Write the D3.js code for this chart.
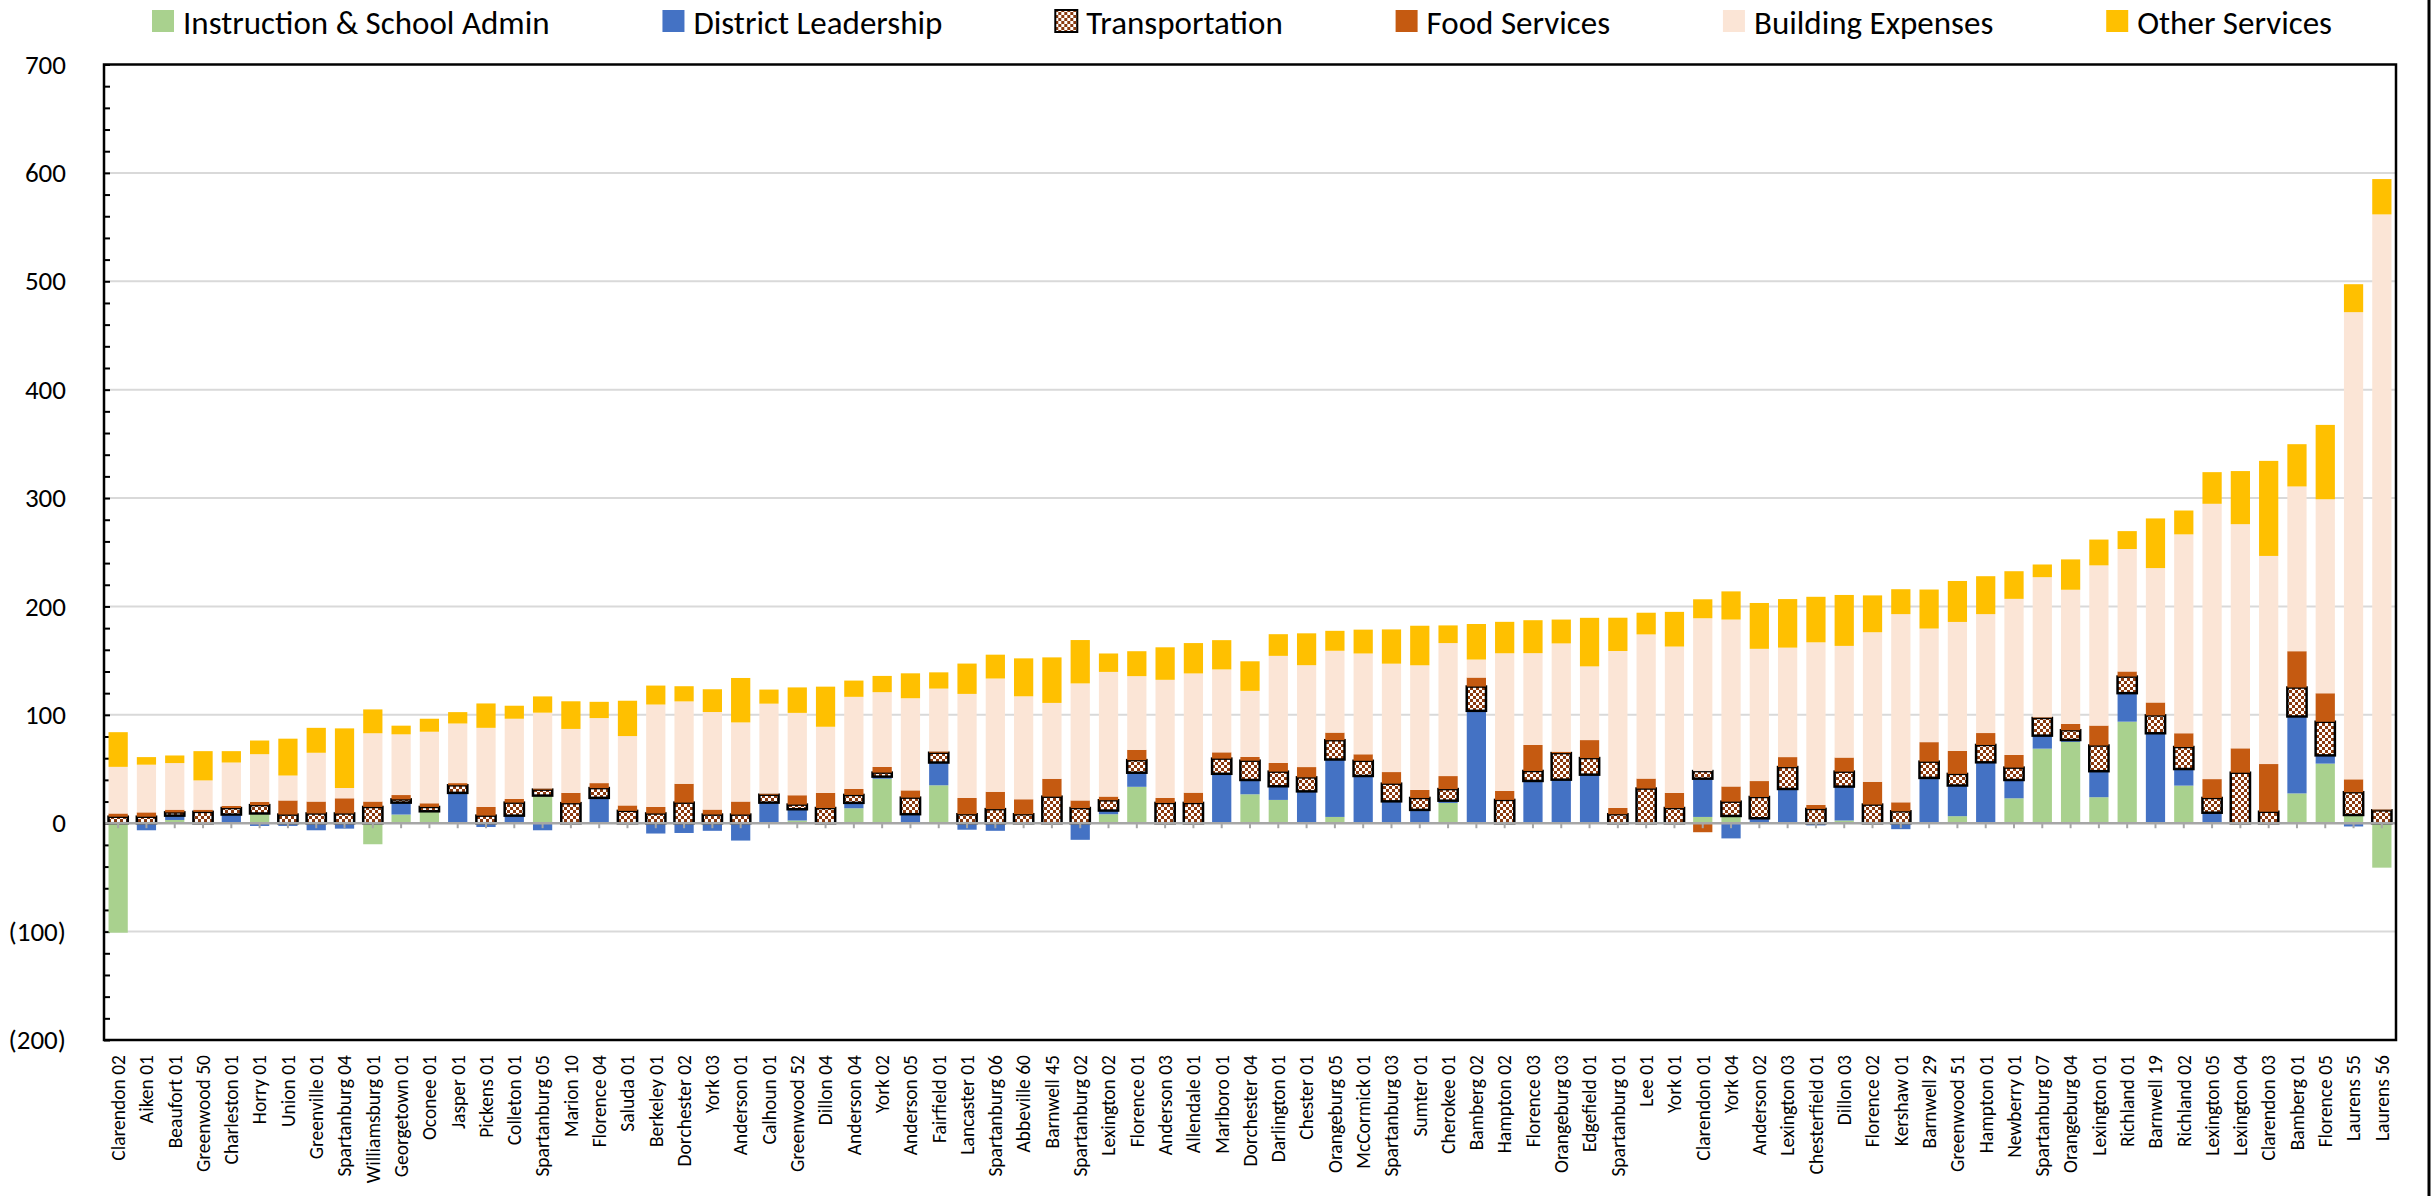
<!DOCTYPE html>
<html lang="en">

<head>
    <meta charset="UTF-8">
    <title>District spending per pupil, stacked</title>
    <style>
        html,
        body {
            padding: 0;
            margin: 0;
            background: #fff;
            overflow: hidden;
        }

        text {
            font-family: Calibri, Carlito, Lato, sans-serif;
            fill: #000;
        }
    </style>
</head>

<body>

    <script src="https://cdn.jsdelivr.net/npm/d3@7"></script>
    <script>

        const districts = [
            'Clarendon 02', 'Aiken 01', 'Beaufort 01', 'Greenwood 50', 'Charleston 01', 'Horry 01', 'Union 01',
            'Greenville 01', 'Spartanburg 04', 'Williamsburg 01', 'Georgetown 01', 'Oconee 01', 'Jasper 01',
            'Pickens 01', 'Colleton 01', 'Spartanburg 05', 'Marion 10', 'Florence 04', 'Saluda 01', 'Berkeley 01',
            'Dorchester 02', 'York 03', 'Anderson 01', 'Calhoun 01', 'Greenwood 52', 'Dillon 04', 'Anderson 04',
            'York 02', 'Anderson 05', 'Fairfield 01', 'Lancaster 01', 'Spartanburg 06', 'Abbeville 60',
            'Barnwell 45', 'Spartanburg 02', 'Lexington 02', 'Florence 01', 'Anderson 03', 'Allendale 01',
            'Marlboro 01', 'Dorchester 04', 'Darlington 01', 'Chester 01', 'Orangeburg 05', 'McCormick 01',
            'Spartanburg 03', 'Sumter 01', 'Cherokee 01', 'Bamberg 02', 'Hampton 02', 'Florence 03',
            'Orangeburg 03', 'Edgefield 01', 'Spartanburg 01', 'Lee 01', 'York 01', 'Clarendon 01', 'York 04',
            'Anderson 02', 'Lexington 03', 'Chesterfield 01', 'Dillon 03', 'Florence 02', 'Kershaw 01',
            'Barnwell 29', 'Greenwood 51', 'Hampton 01', 'Newberry 01', 'Spartanburg 07', 'Orangeburg 04',
            'Lexington 01', 'Richland 01', 'Barnwell 19', 'Richland 02', 'Lexington 05', 'Lexington 04',
            'Clarendon 03', 'Bamberg 01', 'Florence 05', 'Laurens 55', 'Laurens 56'
        ]

        const instruction = [
            -101, 0, 3, 0, 0, 9, 0, 0, 0, -19.4, 8, 11, 0, 0, 0, 25.5, 0, 0, 0, 0,
            0, 0, 0, 0, 2.5, 0, 13.8, 41, 0, 35, 0, 0, 0, 0, 0, 8.3, 33.6, 0, 0, 0,
            26.7, 21.5, 0, 5.8, 0, 0, 0, 18.7, 0, 0, 0, 0, 0, 0, 0, 0, 5.8, 6.7, 0, 0,
            0, 2.5, 0, 0, 0, 6.5, 0, 23, 68.8, 75, 24, 93.7, 0, 34.7, 0, 0, 0, 27.5, 55, 7.6, -41
        ]
        const leadership = [
            0, -6.5, 4, 0, 8, -2.5, -2.5, -6.5, -5, 0, 11, 0, 28, -3.5, 7, -6.5, 0, 23.4, 0, -9.5,
            -9, -7, -16, 19, 10.4, 0, 5, 2, 8.3, 21, -6, -7, 0, 0, -15.3, 3.4, 13, 0, 0, 45.6,
            13.2, 12.6, 29.4, 53, 43.6, 20.2, 12.3, 2.1, 103.7, 0, 39, 40.2, 44.8, 0, 0, 0, 35.3, -14, 4.6, 31.6,
            -2, 31.3, 0, -5.5, 41.8, 28.3, 56.2, 16.9, 12, 1.8, 24, 26.3, 83, 15.3, 9.7, 0, 0, 71, 7.6, -3, 0
        ]
        const transportation = [
            6, 6, 3, 10.5, 6, 7.7, 8, 9, 9, 15, 3, 4, 7, 7, 12, 5.5, 18.5, 9, 11.4, 9,
            19, 8, 8, 7.3, 4.3, 14, 7.3, 3.7, 15.3, 9, 8.3, 13, 8.3, 24.5, 14, 9.5, 11.6, 18.7, 18.7, 14,
            17.8, 13.5, 12.9, 17.8, 14, 16.3, 11, 10.7, 22.4, 21.5, 9.2, 24.5, 15.3, 8.3, 32, 14, 7, 13.2, 19.6, 20.2,
            13.2, 13.8, 17.2, 11, 15, 10.7, 16, 11.4, 16.3, 9, 23.7, 15.3, 16.5, 20.3, 13.6, 46.6, 10.6, 26.7, 31, 21, 11.9
        ]
        const food = [
            3, 4, 2.5, 2, 2, 3, 13, 11, 14, 5, 4, 3.4, 2, 8, 3.4, 1, 9.5, 4.6, 5, 6,
            17.4, 4.6, 12, 1, 8.6, 14, 5.5, 5.2, 6.7, 1.2, 15, 16, 13.8, 16.5, 7, 3.4, 9.5, 4.6, 9.5, 5.8,
            3.4, 8, 9.5, 7, 6, 10.7, 7.4, 12, 8.3, 8.3, 24, 1.2, 16.6, 5.8, 9.2, 14, -8.3, 14, 14.7, 9.2,
            3.7, 13, 21, 8.3, 18, 21.2, 11, 11.7, 0.6, 5.8, 18.4, 4.7, 11.9, 12.7, 17.4, 22.5, 44, 33.5, 26.3, 11.9, 0.8
        ]
        const building = [
            43, 44, 43, 27, 40, 44, 23, 45, 9.5, 63, 56, 66, 55, 73, 74, 70, 59, 60, 64, 94.5,
            76, 90, 73, 83, 76, 61, 85, 69, 85, 58, 96, 104.5, 95, 70, 108, 115, 68, 109, 110, 76.5,
            61, 98.8, 94, 75.5, 93, 100, 115, 122.7, 16.6, 127, 84.7, 100, 68, 144.8, 133, 135, 141, 154, 122, 101,
            150, 103, 138, 173.6, 104.8, 119, 109.7, 144, 129.3, 123.8, 147.8, 113, 124, 183.5, 254, 206.8, 192, 152, 179, 431, 549
        ]
        const other = [
            32, 7, 7, 27, 10.5, 12.6, 34, 23, 55, 22, 8, 12, 10.5, 22.5, 12, 15, 25.5, 15, 32.6, 17.5,
            14, 21, 41, 13, 23.5, 37, 15, 15, 23, 15, 28, 22, 35, 42, 40, 17, 23, 30, 28, 27,
            27.3, 20, 29.4, 18.4, 22, 31.6, 36.5, 16.3, 32.8, 29, 30.4, 22, 44.8, 30.7, 20, 32, 17.5, 26, 42.3, 44.8,
            42, 47, 34, 23, 36, 37.8, 35, 25.5, 11.7, 28, 23.8, 16.5, 45.8, 22, 29.2, 49, 87.7, 39, 68.6, 25.8, 32.6
        ]

        const seriesNames = [
            'Instruction & School Admin', 'District Leadership', 'Transportation',
            'Food Services', 'Building Expenses', 'Other Services'
        ]
        const seriesValues = [instruction, leadership, transportation, food, building, other]
        const yTicks = d3.range(-200, 701, 100)
        const minorTicks = d3.range(-200, 701, 20)

        const colors = {
            'Instruction & School Admin': '#A9D18E',
            'District Leadership': '#4472C4',
            'Transportation': 'url(#checker)',
            'Food Services': '#C55A11',
            'Building Expenses': '#FBE5D6',
            'Other Services': '#FFC000'
        }

        const width = 2433
        const height = 1196
        const plot = { left: 104, right: 2396, top: 64.5, bottom: 1040 }

        const svg = d3.select('body')
            .append('svg')
            .attr('width', width)
            .attr('height', height)

        // checkerboard fill for transportation
        const pattern = svg.append('defs')
            .append('pattern')
            .attr('id', 'checker')
            .attr('patternUnits', 'userSpaceOnUse')
            .attr('width', 6)
            .attr('height', 6)
        pattern.append('rect').attr('width', 6).attr('height', 6).attr('fill', '#8B3A0F')
        pattern.append('rect').attr('width', 3).attr('height', 3).attr('fill', '#fff')
        pattern.append('rect').attr('x', 3).attr('y', 3).attr('width', 3).attr('height', 3).attr('fill', '#fff')

        const x = d3.scaleBand()
            .domain(districts)
            .range([plot.left, plot.right])
            .paddingInner(0.32)
            .paddingOuter(0.16)

        const y = d3.scaleLinear()
            .domain([-200, 700])
            .range([plot.bottom, plot.top])

        const rows = districts.map((name, i) => {
            const row = { name }
            seriesNames.forEach((k, j) => row[k] = seriesValues[j][i])
            return row
        })

        const stacked = d3.stack()
            .keys(seriesNames)
            .offset(d3.stackOffsetDiverging)(rows)

        // gridlines
        svg.append('g')
            .selectAll('line')
            .data(yTicks.filter(d => d !== 0 && d !== 700 && d !== -200))
            .join('line')
            .attr('x1', plot.left)
            .attr('x2', plot.right)
            .attr('y1', d => y(d))
            .attr('y2', d => y(d))
            .attr('stroke', '#D9D9D9')
            .attr('stroke-width', 2)

        // y axis labels
        const yAxis = svg.append('g')
            .attr('transform', `translate(${plot.left}, 0)`)
            .call(d3.axisLeft(y)
                .tickValues(yTicks)
                .tickSize(0)
                .tickPadding(38)
                .tickFormat(d => d < 0 ? `(${-d})` : d))
        yAxis.select('.domain').remove()
        yAxis.selectAll('text')
            .style('font-size', '27px')
            .attr('fill', '#000')

        // minor ticks pointing into the plot
        const minor = svg.append('g')
            .attr('transform', `translate(${plot.left}, 0)`)
            .call(d3.axisLeft(y).tickValues(minorTicks).tickSize(-6).tickFormat(''))
        minor.select('.domain').remove()
        minor.selectAll('line').attr('stroke', '#000').attr('stroke-width', 2)

        // bars
        svg.append('g')
            .selectAll('g')
            .data(stacked)
            .join('g')
            .attr('fill', d => colors[d.key])
            .attr('stroke', d => d.key === 'Transportation' ? '#000' : 'none')
            .attr('stroke-width', 2.5)
            .selectAll('rect')
            .data(d => d.filter(s => s[0] !== s[1]))
            .join('rect')
            .attr('x', d => x(d.data.name))
            .attr('width', x.bandwidth())
            .attr('y', d => y(Math.max(d[0], d[1])))
            .attr('height', d => Math.abs(y(d[0]) - y(d[1])))

        // zero line with category ticks
        svg.append('line')
            .attr('x1', plot.left)
            .attr('x2', plot.right)
            .attr('y1', y(0))
            .attr('y2', y(0))
            .attr('stroke', '#A6A6A6')
            .attr('stroke-width', 2.5)
        svg.append('g')
            .selectAll('line')
            .data(districts)
            .join('line')
            .attr('x1', d => x(d) + x.bandwidth() / 2)
            .attr('x2', d => x(d) + x.bandwidth() / 2)
            .attr('y1', y(0))
            .attr('y2', y(0) + 5)
            .attr('stroke', '#A6A6A6')
            .attr('stroke-width', 2)

        // category labels below the plot
        svg.append('g')
            .selectAll('text')
            .data(districts)
            .join('text')
            .attr('transform', d => `translate(${x(d) + x.bandwidth() / 2}, ${plot.bottom + 15}) rotate(-90)`)
            .attr('text-anchor', 'end')
            .attr('dy', '0.35em')
            .style('font-size', '19.5px')
            .text(d => d)

        // plot border
        svg.append('rect')
            .attr('x', plot.left)
            .attr('y', plot.top)
            .attr('width', plot.right - plot.left)
            .attr('height', plot.bottom - plot.top)
            .attr('fill', 'none')
            .attr('stroke', '#000')
            .attr('stroke-width', 2.5)

        // chart edge on the right
        svg.append('line')
            .attr('x1', 2429).attr('x2', 2429)
            .attr('y1', 0).attr('y2', height)
            .attr('stroke', '#000')
            .attr('stroke-width', 3)

        // legend, spread from 152 to 2332 like the original
        const legendLeft = 152
        const legendRight = 2332
        const items = svg.append('g')
            .selectAll('g')
            .data(seriesNames)
            .join('g')
        items.append('rect')
            .attr('y', 10)
            .attr('width', 22)
            .attr('height', 22)
            .attr('fill', d => colors[d])
            .attr('stroke', d => d === 'Transportation' ? '#000' : 'none')
            .attr('stroke-width', 2)
        items.append('text')
            .attr('x', 31)
            .attr('y', 34)
            .style('font-size', '33px')
            .text(d => d)

        const itemWidths = []
        items.each(function () {
            itemWidths.push(31 + d3.select(this).select('text').node().getComputedTextLength())
        })
        const gap = (legendRight - legendLeft - d3.sum(itemWidths)) / (itemWidths.length - 1)
        const offsets = itemWidths.map((w, i) => legendLeft + d3.sum(itemWidths.slice(0, i)) + gap * i)
        items.attr('transform', (d, i) => `translate(${offsets[i]}, 0)`)

    </script>
</body>

</html>
